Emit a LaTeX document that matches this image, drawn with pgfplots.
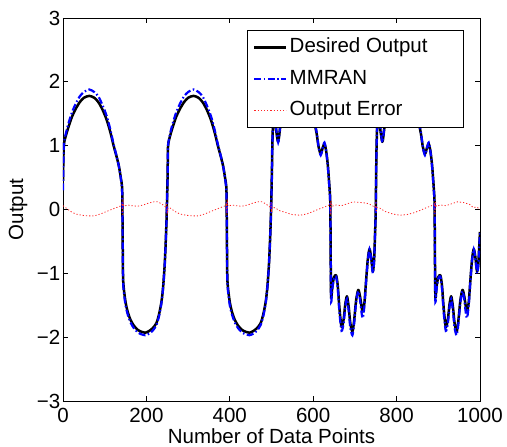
\documentclass[border=0pt]{standalone}
\usepackage{fontspec}
\setmainfont{Liberation Sans}
\usepackage{pgfplots}
\usepackage{pgfplotstable}
\pgfplotsset{compat=1.18}

\pgfplotstableread{
x d m
0 0.45 0.30
2 1.00 1.00
8 1.18 1.22
15 1.33 1.39
22 1.46 1.53
30 1.57 1.65
40 1.68 1.77
50 1.75 1.84
63 1.78 1.88
75 1.75 1.84
85 1.68 1.77
95 1.56 1.63
105 1.40 1.46
114 1.20 1.24
121 1.01 1.03
128 0.84 0.85
134 0.68 0.68
139 0.48 0.47
142 0.30 0.25
143 -0.40 -0.40
144 -1.05 -1.10
146 -1.25 -1.30
150 -1.45 -1.50
155 -1.60 -1.64
162 -1.73 -1.77
170 -1.82 -1.86
180 -1.89 -1.93
190 -1.92 -1.96
197 -1.93 -1.97
205 -1.91 -1.95
215 -1.86 -1.90
224 -1.78 -1.81
230 -1.65 -1.68
236 -1.45 -1.47
240 -1.22 -1.23
244 -0.85 -0.86
247 -0.40 -0.40
249 0.00 0.00
251 0.60 0.55
252 1.00 1.00
258 1.18 1.22
265 1.33 1.39
272 1.46 1.53
280 1.57 1.65
290 1.68 1.77
300 1.75 1.84
313 1.78 1.88
325 1.75 1.84
335 1.68 1.77
345 1.56 1.63
355 1.40 1.46
364 1.20 1.24
371 1.01 1.03
378 0.84 0.85
384 0.68 0.68
389 0.48 0.47
392 0.30 0.25
393 -0.40 -0.40
394 -1.05 -1.10
396 -1.25 -1.30
400 -1.45 -1.50
405 -1.60 -1.64
412 -1.73 -1.77
420 -1.82 -1.86
430 -1.89 -1.93
440 -1.92 -1.96
447 -1.93 -1.97
455 -1.91 -1.95
465 -1.86 -1.90
474 -1.78 -1.81
480 -1.65 -1.68
486 -1.45 -1.47
490 -1.22 -1.23
494 -0.85 -0.86
497 -0.40 -0.40
499 0.00 0.00
501 0.60 0.55
502 1.00 1.00
504 1.40 1.42
507 1.45 1.50
511 1.25 1.28
516 1.06 1.05
521 1.30 1.33
527 1.65 1.72
534 1.80 1.88
541 1.60 1.66
548 1.82 1.90
556 1.62 1.68
563 1.80 1.88
571 1.55 1.62
580 1.70 1.78
590 1.50 1.55
598 1.45 1.50
603 1.35 1.38
608 1.20 1.22
613 0.98 0.98
618 0.87 0.85
623 0.97 0.97
627 1.03 1.05
631 0.92 0.92
635 0.70 0.68
639 0.35 0.32
641 0.10 0.05
642 -0.80 -0.85
643 -1.38 -1.45
646 -1.20 -1.24
650 -1.06 -1.08
655 -1.03 -1.05
659 -1.20 -1.25
663 -1.55 -1.62
668 -1.84 -1.90
673 -1.72 -1.78
677 -1.48 -1.52
681 -1.36 -1.40
685 -1.52 -1.58
689 -1.78 -1.85
694 -1.91 -1.97
698 -1.75 -1.80
703 -1.42 -1.45
708 -1.26 -1.28
712 -1.35 -1.40
716 -1.52 -1.62
719 -1.60 -1.70
723 -1.45 -1.50
727 -1.10 -1.12
731 -0.78 -0.80
735 -0.62 -0.62
739 -0.75 -0.78
743 -0.97 -1.00
746 -0.80 -0.82
748 -0.45 -0.45
750 0.00 0.00
751 0.60 0.55
752 1.00 1.00
754 1.40 1.42
757 1.45 1.50
761 1.25 1.28
766 1.06 1.05
771 1.30 1.33
777 1.65 1.72
784 1.80 1.88
791 1.60 1.66
798 1.82 1.90
806 1.62 1.68
813 1.80 1.88
821 1.55 1.62
830 1.70 1.78
840 1.50 1.55
848 1.45 1.50
853 1.35 1.38
858 1.20 1.22
863 0.98 0.98
868 0.87 0.85
873 0.97 0.97
877 1.03 1.05
881 0.92 0.92
885 0.70 0.68
889 0.35 0.32
891 0.10 0.05
892 -0.80 -0.85
893 -1.38 -1.45
896 -1.20 -1.24
900 -1.06 -1.08
905 -1.03 -1.05
909 -1.20 -1.25
913 -1.55 -1.62
918 -1.84 -1.90
923 -1.72 -1.78
927 -1.48 -1.52
931 -1.36 -1.40
935 -1.52 -1.58
939 -1.78 -1.85
944 -1.91 -1.97
948 -1.75 -1.80
953 -1.42 -1.45
958 -1.26 -1.28
962 -1.35 -1.40
966 -1.52 -1.62
969 -1.60 -1.70
973 -1.45 -1.50
977 -1.10 -1.12
981 -0.78 -0.80
985 -0.62 -0.62
989 -0.75 -0.78
993 -0.97 -1.00
996 -0.85 -0.87
998 -0.60 -0.60
1000 -0.35 -0.35
}\mainData

\pgfplotstableread{
x e
0 0.06
8 0.02
18 -0.03
30 -0.07
45 -0.09
60 -0.10
75 -0.10
90 -0.07
105 -0.03
120 0.01
132 0.04
140 0.06
142 0.10
143 -0.08
144 0.12
146 0.05
155 0.07
165 0.06
178 0.05
192 0.07
205 0.10
218 0.12
228 0.12
238 0.08
246 0.04
249 0.09
250 -0.04
252 0.03
258 0.02
268 -0.03
280 -0.07
295 -0.09
310 -0.10
325 -0.10
340 -0.07
355 -0.03
370 0.01
382 0.04
390 0.06
392 0.10
393 -0.08
394 0.12
396 0.05
405 0.07
415 0.06
428 0.05
442 0.07
455 0.10
468 0.12
478 0.12
488 0.08
496 0.04
499 0.09
500 -0.04
502 0.04
510 0.02
520 -0.02
535 -0.05
550 -0.08
568 -0.09
585 -0.07
600 -0.03
615 0.01
628 0.04
638 0.07
641 0.10
642 -0.09
643 0.13
645 0.05
655 0.07
668 0.06
682 0.09
696 0.12
712 0.11
728 0.10
740 0.07
748 0.03
750 0.09
751 -0.04
753 0.03
760 0.02
772 -0.03
790 -0.07
808 -0.09
825 -0.08
842 -0.05
858 -0.01
872 0.03
884 0.06
890 0.08
891 0.10
892 -0.09
893 0.13
895 0.05
905 0.07
918 0.06
932 0.09
946 0.12
960 0.11
975 0.08
984 0.03
992 0.04
1000 0.00
}\errData

\begin{document}
\fontsize{20.5}{24}\selectfont
\begin{tikzpicture}
\begin{axis}[
  scale only axis, width=417pt, height=383pt,
  xmin=0, xmax=1000, ymin=-3, ymax=3,
  xtick={0,200,...,1000}, ytick={-3,-2,...,3},
  yticklabels={−3,−2,−1,0,1,2,3},
  /pgf/number format/assume math mode=true,
  /pgf/number format/1000 sep={},
  tick align=inside, major tick length=5pt,
  axis line style={line width=0.8pt},
  every tick/.style={black, line width=0.8pt},
  yticklabel style={inner xsep=2.5pt},
  xlabel={Number of Data Points}, ylabel={Output},
  xlabel style={yshift=8pt},
  clip=true,
  legend cell align=left,
  legend style={at={(rel axis cs:0.9616,0.9687)}, anchor=north east,
    draw=black, line width=0.8pt, fill=white, inner xsep=6pt, inner ysep=1.5pt,
    row sep=0pt,
    nodes={inner xsep=2pt, inner ysep=5.75pt, text height=15pt, text depth=5pt}},
  legend image code/.code={\draw[#1] (0pt,0pt) -- (32pt,0pt);},
]
\addplot[black, line width=2.5pt, smooth, tension=0.45, line join=round] table[x=x, y=d] {\mainData};
\addlegendentry{Desired Output\hspace*{28pt}}
\addplot[blue, line width=2.2pt, smooth, tension=0.45, dash pattern=on 7pt off 2.5pt on 1.5pt off 2.5pt] table[x=x, y=m] {\mainData};
\addlegendentry{MMRAN}
\addplot[red!85, line width=0.8pt, dash pattern=on 1.2pt off 2pt] table[x=x, y=e] {\errData};
\addlegendentry{Output Error}
\end{axis}
\pgfresetboundingbox
\path ([shift={(-63pt,-46pt)}]current axis.south west) rectangle ([shift={(27pt,18pt)}]current axis.north east);
\end{tikzpicture}
\end{document}
